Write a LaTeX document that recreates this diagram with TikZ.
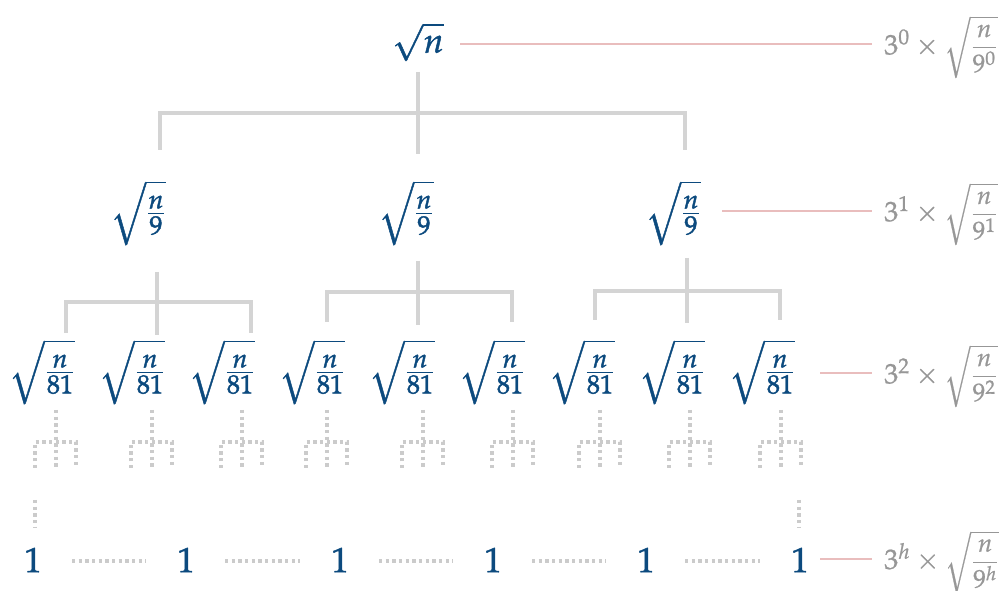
\documentclass[tikz,border=0pt]{standalone}
\usepackage{amsmath}
\usepackage{mathpazo}
\usetikzlibrary{calc}
% larger fractions inside the radicals of the tree
\DeclareMathSizes{20}{20}{15}{11}
\definecolor{nodeblue}{HTML}{0C4A7E}
\definecolor{treegrey}{HTML}{D4D4D4}
\definecolor{dotgrey}{HTML}{CBCBCB}
\definecolor{labelgrey}{HTML}{979797}
\definecolor{guide}{HTML}{E9BDBD}
% glyphs filled and stroked for a slightly heavier stroke
\newcommand{\heavy}[2][0.25]{\special{pdf:literal direct 2 Tr #1 w}#2\special{pdf:literal direct 0 Tr}}
\newcommand{\levelcost}[1]{\heavy[0.12]{$3^{#1}\times{}${\fontsize{14.5}{17}\selectfont$\sqrt{\dfrac{n}{9^{#1}}}$}}}
\begin{document}
\begin{tikzpicture}[x=0.02cm,y=-0.02cm,
  term/.style={text=nodeblue, inner sep=0pt, font=\fontsize{20}{24}\selectfont},
  level/.style={text=labelgrey, inner sep=0pt, anchor=west, font=\fontsize{16}{19}\selectfont},
  branch/.style={draw=treegrey, line width=1.8pt},
  faint/.style={draw=dotgrey, line width=1.8pt, dash pattern=on 1.8pt off 2.0pt},
  guideline/.style={draw=guide, line width=0.85pt}]
\useasboundingbox (0,0) rectangle (1002,591);

% recursion tree terms
\node[term] (r) at (418,42) {\heavy{$\sqrt{n}$}};
\node[term] (a1) at (138,213) {\heavy{$\sqrt{\frac{n}{9}}$}};
\node[term] (a2) at (406,213) {\heavy{$\sqrt{\frac{n}{9}}$}};
\node[term] (a3) at (673,213) {\heavy{$\sqrt{\frac{n}{9}}$}};
\foreach \i/\x in {1/42,2/132,3/222,4/312,5/402,6/492,7/582,8/672,9/762}
  \node[term] (b\i) at (\x,372) {\heavy{$\sqrt{\frac{n}{81}}$}};
\foreach \i/\x in {1/33,2/186,3/340,4/493,5/646,6/800}
  \node[term] (c\i) at (\x,560) {\heavy{$1$}};

% cost per level
\node[level] (l0) at (884,47) {\levelcost{0}};
\node[level] (l1) at (884,214) {\levelcost{1}};
\node[level] (l2) at (884,376) {\levelcost{2}};
\node[level] (lh) at (884,562) {\levelcost{h}};

% root bracket
\coordinate (r0) at (418,72);
\coordinate (rj) at (418,113);
\draw[branch] (r0) -- (418,154);
\draw[branch] (160,150) -- (160,113) -- (rj) -- (685,113) -- (685,150);

% second level brackets
\draw[branch] (157,272) -- (157,335);
\draw[branch] (66,333) -- (66,302) -- (251,302) -- (251,333);
\draw[branch] (418,261) -- (418,325);
\draw[branch] (327,322) -- (327,292) -- (512,292) -- (512,322);
\draw[branch] (687,258) -- (687,323);
\draw[branch] (595,320) -- (595,291) -- (780,291) -- (780,320);

% elided lower levels
\foreach \s in {56,152,242,327,423,513,600,690,781} {
  \draw[faint] (\s,410) -- (\s,468);
  \draw[faint] (\s-21,468) -- (\s-21,442) -- (\s+20,442) -- (\s+20,468);
}
\draw[faint] (35,500) -- (35,528);
\draw[faint] (799,500) -- (799,528);
\foreach \i/\j in {1/2,2/3,3/4,4/5,5/6}
  \draw[faint] ($(c\i)+(39,1)$) -- ($(c\j)+(-40,1)$);

% guides to level costs
\draw[guideline] (460,44) -- (872,44);
\draw[guideline] (722,211) -- (872,211);
\draw[guideline] (820,373) -- (872,373);
\draw[guideline] (820,559) -- (872,559);
\end{tikzpicture}
\end{document}
